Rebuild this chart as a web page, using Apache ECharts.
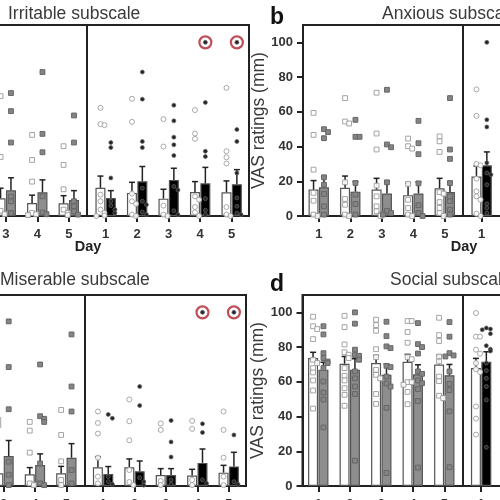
<!DOCTYPE html>
<html><head><meta charset="utf-8">
<script src="https://cdn.jsdelivr.net/npm/echarts@6/dist/echarts.min.js"></script>
<style>html,body{margin:0;padding:0;background:#fff;overflow:hidden}#c{width:500px;height:500px;filter:blur(0.45px)}</style>
</head><body><div id="c"></div>
<script>
const dayLabels=[1,2,3,4,5];
const yTicks=[0,20,40,60,80,100];
const n=null;
// Irritable subscale (left days 1-2 lie outside the cropped picture)
const irrWhiteSqMean=[n,n,10.2,7.5,7.3], irrWhiteSqErr=[n,n,16,12,11.7];
const irrGreyMean=[n,n,14.8,13.7,9.2], irrGreyErr=[n,n,22,20.8,14.6];
const irrWhiteCiMean=[16.2,13.3,10,13.8,13.7], irrWhiteCiErr=[23,19.4,15.4,19.8,20.2];
const irrBlackMean=[10.4,20,20.8,18.8,18.3], irrBlackErr=[14.6,28.5,27.5,28,26.7];
const irrWhiteSqPts=[[],[],[69,34,3,1],[46.7,32.3,19.8,1.7,1,0.5],[40.2,29.4,15.4,3.7,1.7,0.5]];
const irrGreyPts=[[],[],[70.8,60.4,42.3,11.3,8.5,1.7],[82.9,47.3,36.7,11.3,2,1],[57.9,42.3,8.5,5.6,2.7,0.8]];
const irrWhiteCiPts=[[62.3,52.9,52.3,12.3,8.5,3.7,1.7,0.2,0],[67.5,54.2,12.9,8.5,7,0.8,0],[55.8,40,6,0.8,0],[61,47.5,44.4,11.3,9.4,5.2,2.1,0],[73.8,37.3,33.8,30.2,5.2,0.8,0]];
const irrBlackPts=[[42.3,39.4,21.9,8.5,6,3.7,1.7],[82.9,67.3,42.9,39.4,16,8.5,6.5,2.3,0.8],[63.8,54.8,45.4,41,34.8,17,15,3,0.8],[100,65.4,37.3,34.2,10,3.3,0.8],[100,49.8,42.9,24.8,10.4,5.6,1.7,0.8]];
const irrCircled=[4,5];
// Anxious subscale (right days 2-5 lie outside the cropped picture)
const anxWhiteSqMean=[15.2,16.2,15.2,12,16], anxWhiteSqErr=[20.4,23,21.7,19,21.7];
const anxGreyMean=[16.5,14,13,13,13.8], anxGreyErr=[22.9,19.8,20,19.6,19.6];
const anxWhiteCiMean=[22.7,n,n,n,n], anxWhiteCiErr=[28.8,n,n,n,n];
const anxBlackMean=[29.2,n,n,n,n], anxBlackErr=[36.9,n,n,n,n];
const anxWhiteSqPts=[[59.4,46.7,26.7,13.3,8.8,0.8,0],[67.9,54.4,53.3,19.4,9.8,6.5,0.8,0],[71,47.5,38.3,17.5,11.3,5.6,2.7,0.8,0],[44.6,40.2,38.8,18.5,9.4,4.6,0.8,0],[45.8,43,36.9,13.7,12.9,8,4.6,1.7,0]];
const anxGreyPts=[[50,48.3,44.8,22.3,18,12.7,5.6,0.8],[55.4,45.6,45.6,19,12.3,6.9,0.8],[72.7,41.2,39.6,19.4,3,1.7,0.8],[54.8,41.9,35.6,18.8,6.2,1.7,0],[67.9,38.3,32.9,19,11.3,8.5,3.7,0.8]];
const anxWhiteCiPts=[[72.9,57.7,30,29.2,21.5,14.2,11.3,9.4,1.3,0],[],[],[],[]];
const anxBlackPts=[[100,55.4,51.3,30.6,24.8,23.8,18,7,4.6,1.7],[],[],[],[]];
// Miserable subscale
const misWhiteSqMean=[n,n,7.3,6.7,7.3], misWhiteSqErr=[n,n,n,10.6,11.3];
const misGreyMean=[n,n,17.3,12.1,16.3], misGreyErr=[n,n,26.2,18.5,24.4];
const misWhiteCiMean=[10.8,10.8,6.3,6,7.7], misWhiteCiErr=[16.9,15.6,10,9.6,11.9];
const misBlackMean=[6.9,8.5,6.3,13.3,11.3], misBlackErr=[11.2,14.4,10,21.3,19.4];
const misWhiteSqPts=[[],[],[38,35],[36.9,31.9,19.2,1.5,0.5],[43.8,29.4,14.2,3.5,0.5]];
const misGreyPts=[[],[],[94.8,68.5,44.2,14,6.5,0.5],[70,40.2,38.7,36.9,13,1.5,0.5],[87.3,57.3,42.9,9.2,1.5]];
const misWhiteCiPts=[[42.9,36.3,30.2,16.3,5.4,1.5],[49.8,37.3,26.3,9.2,2.3,0.5],[36,32.3,2.9,0.5],[37.5,32.9,3.5,0.5],[42.9,32.3,16.3,5.4,0.5]];
const misBlackPts=[[41.2,39,5.4,2.5,1],[57.3,46.3,4.8,2.5,0.5],[37.7,25.4,16.7,3.5,1],[100,35.8,30.8,3.5,1.5],[100,29.4,2.5,1]];
const misCircled=[4,5];
// Social subscale
const socWhiteSqMean=[73.7,70.4,70.8,71.5,70], socWhiteSqErr=[77,74.6,75.2,75.8,75.4];
const socGreyMean=[67,67,64,64.4,63.8], socGreyErr=[71.3,73.3,70.2,69.8,70];
const socWhiteCiMean=[67.9,n,n,n,n], socWhiteCiErr=[73.5,n,n,n,n];
const socBlackMean=[71.5,n,n,n,n], socBlackErr=[77.3,n,n,n,n];
const socWhiteSqPts=[[97.5,92,90.4,84.6,72.7,70.8,67.9,65.4,60.8,55,44.6],[98,91.5,81.5,77,75.6,73.7,67.9,63.5,60.8,56.3,52.5,46.2],[95.8,92.7,89.4,78.8,74.2,66.9,64,62,53,47.3],[95,95,88.7,82.5,74.2,73,59.8,59.8,58.3,54.2,47.1],[96.9,86.9,83.5,74.6,71.7,63,60.4,52,50.6]];
const socGreyPts=[[92,87.3,76.5,73.7,71.7,70.8,67.9,60.2,53.8,49.8,33.7],[100,93.5,78.5,75.4,75,72.7,66,62,57.3,53,14.6],[94.6,86.3,80.4,79.4,69.2,68.5,63,59,57.3,45,7.5],[93.8,81.7,80,76.3,66,64.6,60.8,59.2,55.8,49,10.6],[94.4,86,76.5,75.2,74.6,66,58.8,55.2,43,10.8]];
const socWhiteCiPts=[[99.6,86,86,78.5,76.2,70.8,67.3,65.6,45.8,38.8,29.6],[],[],[],[]];
const socBlackPts=[[91,90.4,90,87.7,80.8,78.8,77.7,70.8,66.5,62,57.3,49.6,22.3],[],[],[],[]];

const leftSlot=i=>i+0.5, rightSlot=i=>i+5.67, barShift=0.165;
const DIVIDER=5.08, SLOTS=10.22;
const panels=[
 {title:'Irritable subscale',tx:8,ty:5,left:-73,top:25,w:322,groups:[[irrWhiteSqMean,irrWhiteSqErr,irrWhiteSqPts],[irrGreyMean,irrGreyErr,irrGreyPts],[irrWhiteCiMean,irrWhiteCiErr,irrWhiteCiPts],[irrBlackMean,irrBlackErr,irrBlackPts]],circled:irrCircled},
 {title:'Anxious subscale',tx:382,ty:5,left:303,top:25,w:322,letter:'b',ly:6,groups:[[anxWhiteSqMean,anxWhiteSqErr,anxWhiteSqPts],[anxGreyMean,anxGreyErr,anxGreyPts],[anxWhiteCiMean,anxWhiteCiErr,anxWhiteCiPts],[anxBlackMean,anxBlackErr,anxBlackPts]],circled:[]},
 {title:'Miserable subscale',tx:0,ty:271,left:-75,top:295,w:321,groups:[[misWhiteSqMean,misWhiteSqErr,misWhiteSqPts],[misGreyMean,misGreyErr,misGreyPts],[misWhiteCiMean,misWhiteCiErr,misWhiteCiPts],[misBlackMean,misBlackErr,misBlackPts]],circled:misCircled},
 {title:'Social subscale',tx:390,ty:271,left:302.5,top:295,w:322,letter:'d',ly:273,groups:[[socWhiteSqMean,socWhiteSqErr,socWhiteSqPts],[socGreyMean,socGreyErr,socGreyPts],[socWhiteCiMean,socWhiteCiErr,socWhiteCiPts],[socBlackMean,socBlackErr,socBlackPts]],circled:[]}
];
const FONT='"Liberation Sans", Arial, sans-serif';
const styles=[
 {bar:'#ffffff',sym:'rect',size:4.8,fill:'#ffffff',stroke:'#9a9a9a',bw:1},
 {bar:'#8e8e8e',sym:'rect',size:4.8,fill:'#858585',stroke:'#666666',bw:1},
 {bar:'#ffffff',sym:'circle',size:5,fill:'#ffffff',stroke:'#a0a0a0',bw:1},
 {bar:'#000000',sym:'circle',size:4,fill:'#262626',stroke:'#666666',bw:0.7}
];
// Nudge near-identical readings sideways so the markers do not hide each other
function spread(vals,x){
  const placed=[];
  return vals.map(v=>{
    const near=placed.filter(p=>Math.abs(p[1]-v)<2.4).length;
    const off=near===0?0:(near%2?1:-1)*Math.ceil(near/2)*0.13;
    const pt=[x+off,v]; placed.push(pt); return pt;
  });
}
const titles=[],grids=[],xAxes=[],yAxes=[],series=[];
panels.forEach((p,pi)=>{
  titles.push({text:p.title,left:p.tx,top:p.ty,padding:0,textStyle:{fontFamily:FONT,fontSize:17.5,fontWeight:'normal',color:'#3a3a3a'}});
  if(p.letter)titles.push({text:p.letter,left:270,top:p.ly,padding:0,textStyle:{fontFamily:FONT,fontSize:23,fontWeight:'bold',color:'#111'}});
  grids.push({left:p.left,top:p.top,width:p.w,height:191,outerBoundsMode:'none',show:true,backgroundColor:'#fff',borderColor:'#222',borderWidth:2});
  const tickPos=dayLabels.map((d,i)=>leftSlot(i)).concat(dayLabels.map((d,i)=>rightSlot(i)));
  xAxes.push({gridIndex:pi,type:'value',min:0,max:SLOTS,name:'Day',nameLocation:'middle',nameGap:23,nameMoveOverlap:false,
    nameTextStyle:{fontFamily:FONT,fontSize:14.5,fontWeight:'bold',color:'#222'},
    splitLine:{show:false},axisLine:{show:true,onZero:false,lineStyle:{color:'#222',width:2}},
    axisTick:{show:true,customValues:tickPos,length:6,lineStyle:{color:'#222',width:2}},
    axisLabel:{customValues:tickPos,margin:12,fontFamily:FONT,fontSize:13,fontWeight:'bold',color:'#333',
      formatter:v=>{const i=tickPos.findIndex(t=>Math.abs(t-v)<1e-6);return i<0?'':String(dayLabels[i%5]);}}});
  yAxes.push({gridIndex:pi,type:'value',min:0,max:110,name:'VAS ratings (mm)',nameLocation:'middle',nameGap:35,nameMoveOverlap:false,
    nameTextStyle:{fontFamily:FONT,fontSize:17.5,color:'#3a3a3a'},splitLine:{show:false},
    axisLine:{show:true,lineStyle:{color:'#222',width:2}},
    axisTick:{show:true,customValues:yTicks,length:6,lineStyle:{color:'#222',width:2}},
    axisLabel:{customValues:yTicks,margin:10,fontFamily:FONT,fontSize:13,fontWeight:'bold',color:'#333'}});
  p.groups.forEach((g,gi)=>{
    const slot=gi<2?leftSlot:rightSlot, shift=(gi%2?1:-1)*barShift, st=styles[gi];
    const xs=dayLabels.map((d,i)=>slot(i)+shift);
    series.push({type:'bar',xAxisIndex:pi,yAxisIndex:pi,barWidth:10,barGap:'-100%',z:2,silent:true,
      itemStyle:{color:st.bar,borderColor:'#555',borderWidth:1.2},
      data:g[0].map((m,i)=>m==null?null:[xs[i],m]).filter(Boolean),
      markLine:gi===0?{silent:true,symbol:'none',label:{show:false},animation:false,lineStyle:{color:'#222',width:2,type:'solid'},data:[{xAxis:DIVIDER}]}:undefined});
    series.push({type:'custom',xAxisIndex:pi,yAxisIndex:pi,z:3,silent:true,clip:false,
      data:g[0].map((m,i)=>(m==null||g[1][i]==null)?null:[xs[i],m,g[1][i]]).filter(Boolean),
      encode:{x:0,y:[1,2]},
      renderItem:(params,api)=>{
        const a=api.coord([api.value(0),api.value(1)]),b=api.coord([api.value(0),api.value(2)]);
        const s={stroke:'#222',lineWidth:1.5,fill:null};
        return {type:'group',children:[
          {type:'line',shape:{x1:a[0],y1:a[1],x2:b[0],y2:b[1]},style:s},
          {type:'line',shape:{x1:b[0]-3,y1:b[1],x2:b[0]+3,y2:b[1]},style:s}]};
      }});
    series.push({type:'scatter',xAxisIndex:pi,yAxisIndex:pi,z:4,silent:true,clip:false,
      symbol:st.sym,symbolSize:st.size,
      itemStyle:{color:st.fill,borderColor:st.stroke,borderWidth:st.bw,opacity:gi%2?1:0.9},
      data:g[2].flatMap((vals,i)=>spread(vals,xs[i]))});
  });
  if(p.circled.length){
    series.push({type:'scatter',xAxisIndex:pi,yAxisIndex:pi,z:5,silent:true,clip:false,symbol:'circle',symbolSize:12,
      itemStyle:{color:'rgba(0,0,0,0)',borderColor:'#b2202e',borderWidth:2.2},
      data:p.circled.map(d=>[rightSlot(d-1)+barShift,100])});
  }
});
const chart=echarts.init(document.getElementById('c'),null,{renderer:'canvas',width:500,height:500});
chart.setOption({animation:false,backgroundColor:'#fff',title:titles,grid:grids,xAxis:xAxes,yAxis:yAxes,series:series});
</script></body></html>
